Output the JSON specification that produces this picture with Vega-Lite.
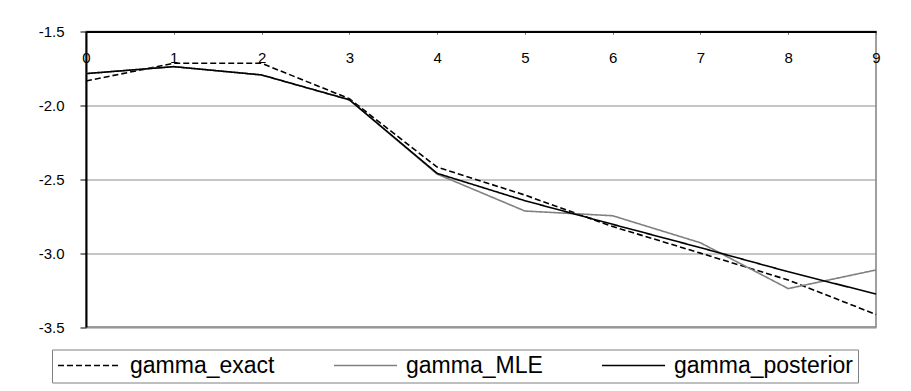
{
  "$schema": "https://vega.github.io/schema/vega-lite/v6.json",
  "width": 790,
  "height": 295.5,
  "autosize": {"type": "none"},
  "padding": {"left": 86, "top": 31.5, "right": 35, "bottom": 64},
  "background": "white",
  "data": {
    "values": [
      {"x": 0, "series": "gamma_exact", "value": -1.835},
      {"x": 1, "series": "gamma_exact", "value": -1.715},
      {"x": 2, "series": "gamma_exact", "value": -1.715},
      {"x": 3, "series": "gamma_exact", "value": -1.955},
      {"x": 4, "series": "gamma_exact", "value": -2.418},
      {"x": 5, "series": "gamma_exact", "value": -2.607},
      {"x": 6, "series": "gamma_exact", "value": -2.82},
      {"x": 7, "series": "gamma_exact", "value": -3.0},
      {"x": 8, "series": "gamma_exact", "value": -3.182},
      {"x": 9, "series": "gamma_exact", "value": -3.415},
      {"x": 0, "series": "gamma_MLE", "value": -1.785},
      {"x": 1, "series": "gamma_MLE", "value": -1.738},
      {"x": 2, "series": "gamma_MLE", "value": -1.794},
      {"x": 3, "series": "gamma_MLE", "value": -1.962},
      {"x": 4, "series": "gamma_MLE", "value": -2.465},
      {"x": 5, "series": "gamma_MLE", "value": -2.715},
      {"x": 6, "series": "gamma_MLE", "value": -2.747},
      {"x": 7, "series": "gamma_MLE", "value": -2.93},
      {"x": 8, "series": "gamma_MLE", "value": -3.24},
      {"x": 9, "series": "gamma_MLE", "value": -3.114},
      {"x": 0, "series": "gamma_posterior", "value": -1.785},
      {"x": 1, "series": "gamma_posterior", "value": -1.738},
      {"x": 2, "series": "gamma_posterior", "value": -1.794},
      {"x": 3, "series": "gamma_posterior", "value": -1.962},
      {"x": 4, "series": "gamma_posterior", "value": -2.46},
      {"x": 5, "series": "gamma_posterior", "value": -2.645},
      {"x": 6, "series": "gamma_posterior", "value": -2.805},
      {"x": 7, "series": "gamma_posterior", "value": -2.963},
      {"x": 8, "series": "gamma_posterior", "value": -3.126},
      {"x": 9, "series": "gamma_posterior", "value": -3.277}
    ]
  },
  "mark": {"type": "line", "clip": false},
  "encoding": {
    "x": {
      "field": "x",
      "type": "quantitative",
      "scale": {"domain": [0, 9], "nice": false, "zero": false},
      "axis": {
        "orient": "bottom",
        "offset": -295.5,
        "title": null,
        "values": [0, 1, 2, 3, 4, 5, 6, 7, 8, 9],
        "format": "d",
        "grid": false,
        "domainColor": "black",
        "domainWidth": 2,
        "tickColor": "#808080",
        "tickSize": 3,
        "tickWidth": 1,
        "labelPadding": 23,
        "labelBaseline": "middle",
        "labelFlush": false,
        "labelOverlap": false,
        "labelFont": "Liberation Sans",
        "labelFontSize": 15,
        "labelColor": "black"
      }
    },
    "y": {
      "field": "value",
      "type": "quantitative",
      "scale": {"domain": [-3.5, -1.5], "nice": false, "zero": false},
      "axis": {
        "title": null,
        "values": [-3.5, -3.0, -2.5, -2.0, -1.5],
        "format": ".1f",
        "labelExpr": "replace(datum.label, '−', '-')",
        "grid": true,
        "gridColor": "#8c8c8c",
        "gridWidth": 1,
        "domainColor": "black",
        "domainWidth": 2,
        "tickColor": "black",
        "tickSize": 6,
        "tickWidth": 1,
        "labelPadding": 16,
        "labelFont": "Liberation Sans",
        "labelFontSize": 15,
        "labelColor": "black"
      }
    },
    "color": {
      "field": "series",
      "type": "nominal",
      "scale": {
        "domain": ["gamma_exact", "gamma_MLE", "gamma_posterior"],
        "range": ["black", "#808080", "black"]
      },
      "legend": {
        "title": null,
        "orient": "none",
        "legendX": -34,
        "legendY": 318,
        "direction": "horizontal",
        "columns": 3,
        "symbolType": "stroke",
        "symbolSize": 3969,
        "clipHeight": 22,
        "labelFont": "Liberation Sans",
        "labelFontSize": 23,
        "labelLimit": 400,
        "labelColor": "black",
        "labelOffset": 8,
        "columnPadding": 58,
        "padding": 5,
        "strokeColor": "#808080",
        "fillColor": "white"
      }
    },
    "strokeDash": {
      "field": "series",
      "type": "nominal",
      "scale": {
        "domain": ["gamma_exact", "gamma_MLE", "gamma_posterior"],
        "range": [[6, 3], [1, 0], [1, 0]]
      },
      "legend": {"title": null}
    },
    "strokeWidth": {
      "field": "series",
      "type": "nominal",
      "scale": {
        "domain": ["gamma_exact", "gamma_MLE", "gamma_posterior"],
        "range": [1.6, 1.6, 2.8]
      },
      "legend": {"title": null}
    }
  },
  "config": {
    "view": {"stroke": "#808080", "strokeWidth": 1.5},
    "font": "Liberation Sans"
  }
}
